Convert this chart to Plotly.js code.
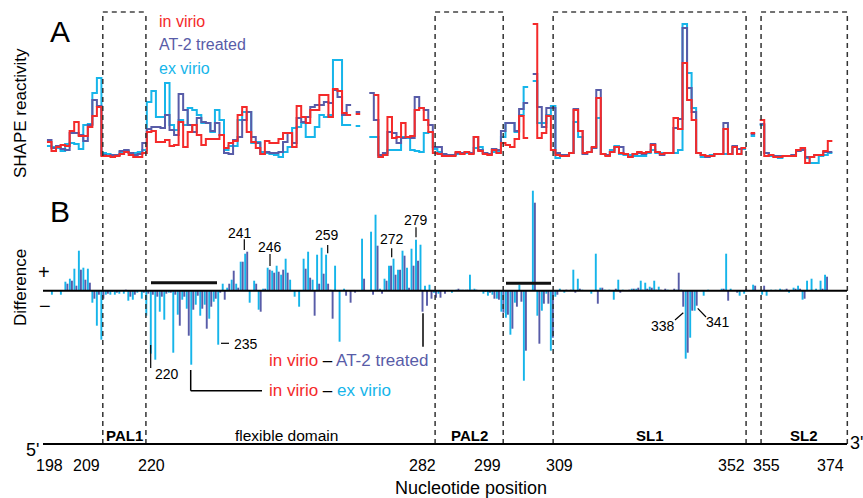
<!DOCTYPE html>
<html><head><meta charset="utf-8">
<script src="https://cdn.plot.ly/plotly-3.0.1.min.js"></script>
<style>html,body{margin:0;padding:0;background:#fff}#chart{width:863px;height:498px}</style>
</head><body><div id="chart"></div>
<script>
// Nucleotide positions 198..370
const firstNt = 198;

// Panel A: SHAPE reactivity (arbitrary units)
const inVirio = [
0.18,0.09,0.13,0.15,0.14,0.29,0.38,0.24,0.24,0.33,
0.44,0.53,0.04,0.04,0.03,0.04,0.06,0.08,0.05,0.03,
0.03,0.07,0.28,0.29,0.18,0.18,0.20,0.14,0.15,0.38,
0.13,0.28,0.35,0.25,0.15,0.21,0.21,0.21,0.25,0.12,
0.17,0.19,0.45,0.53,0.28,0.18,0.12,0.06,0.19,0.17,
0.17,0.21,0.27,0.27,0.13,0.54,0.43,0.37,0.50,0.50,
0.65,0.65,0.43,0.71,0.69,0.47,0.45,null,0.46,null,
null,null,0.65,0.03,0.05,0.43,0.22,0.23,0.37,0.23,
0.24,0.50,0.52,0.40,0.28,0.07,0.06,0.04,0.04,0.04,
0.08,0.06,0.08,0.06,0.23,0.09,0.06,0.05,0.10,0.07,
0.17,0.15,0.13,0.21,0.44,0.22,null,1.36,0.22,0.27,
0.44,0.10,0.05,0.04,0.04,0.07,0.50,0.29,0.07,0.08,
0.13,0.62,0.06,0.04,0.08,0.13,0.07,0.06,0.03,0.06,
0.08,0.07,0.08,0.15,0.08,0.06,0.07,0.07,0.42,0.31,
0.97,0.60,0.40,0.07,0.05,0.04,0.04,0.06,0.06,0.31,
0.06,0.13,0.06,0.12,null,0.27,null,0.40,0.04,0.05,
0.03,0.03,0.04,0.04,0.04,0.10,0.12,-0.03,0.03,0.05,
0.05,0.09,0.19];
const at2Treated = [
0.20,0.12,0.14,0.11,0.10,0.27,0.27,0.25,0.19,0.35,
0.60,0.54,0.05,0.04,0.05,0.05,0.09,0.10,0.07,0.05,
0.06,0.17,0.31,0.33,0.33,0.32,0.45,0.30,0.25,0.66,
0.50,0.35,0.28,0.42,0.38,0.37,0.29,0.37,0.25,0.07,
0.06,0.20,0.23,0.40,0.48,0.23,0.17,0.06,0.08,0.07,
0.07,0.08,0.18,0.27,0.17,0.42,0.38,0.43,0.53,0.55,
0.55,0.58,0.57,0.70,0.63,0.45,0.55,null,0.48,null,
null,0.67,0.40,0.05,0.07,0.28,0.27,0.17,0.22,0.23,
0.22,0.63,0.52,0.50,0.35,0.13,0.13,0.06,0.05,0.05,
0.07,0.07,0.08,0.07,0.23,0.10,0.07,0.06,0.11,0.10,
0.29,0.37,0.37,0.29,0.51,0.57,null,0.86,0.53,0.33,
0.52,0.52,0.07,0.05,0.05,0.07,0.51,0.29,0.06,0.08,
0.12,0.70,0.06,0.05,0.08,0.13,0.13,0.06,0.03,0.06,
0.07,0.06,0.08,0.16,0.08,0.05,0.07,0.07,0.32,0.41,
1.32,0.72,0.48,0.07,0.05,0.03,0.04,0.06,0.06,0.37,
0.06,0.14,0.11,0.12,null,0.26,null,0.36,0.07,0.05,
0.04,0.04,0.04,0.04,0.05,0.09,0.10,0.03,0.03,0.05,
0.05,0.08,0.08];
const exVirio = [
0.14,0.13,0.12,0.09,0.16,0.17,0.16,0.11,0.35,0.36,
0.67,0.82,0.07,0.06,0.05,0.05,0.08,0.09,0.07,0.07,
0.08,0.10,0.58,0.69,0.43,0.43,0.77,0.35,0.30,0.40,
0.35,0.52,0.50,0.45,0.37,0.37,0.28,0.50,0.40,0.10,
0.14,0.14,0.40,0.48,0.48,0.17,0.18,0.08,0.07,0.06,
0.05,0.03,0.08,0.13,0.32,0.33,0.37,0.23,0.23,0.33,
0.45,0.43,0.45,1.00,1.00,0.35,0.35,null,0.34,null,
null,0.23,0.23,0.03,0.05,0.10,0.10,0.10,0.23,0.22,
0.10,0.09,0.08,0.27,0.28,0.11,0.08,0.05,0.05,0.05,
0.06,0.07,0.07,0.07,0.12,0.13,0.07,0.06,0.08,0.08,
0.23,0.37,0.37,0.28,0.45,0.73,null,0.79,0.37,0.37,
0.45,0.54,0.02,0.04,0.05,0.07,0.38,0.23,0.06,0.08,
0.12,0.42,0.06,0.05,0.10,0.14,0.06,0.05,0.05,0.04,
0.04,0.04,0.07,0.10,0.07,0.07,0.07,0.07,0.07,0.10,
1.36,0.87,0.52,0.07,0.03,0.04,0.05,0.06,0.06,0.06,
0.06,0.13,0.06,0.11,null,0.24,null,0.35,0.07,0.04,
0.04,0.02,0.04,0.04,0.05,0.09,0.10,0.02,-0.03,-0.03,
0.04,0.05,0.07];

// Panel B: differences
const diffExVirio = [
-0.04,0,-0.04,0.09,0.12,0.22,0.40,0.23,0.22,-0.12,
-0.35,-0.49,-0.04,-0.04,-0.04,-0.03,-0.03,-0.10,-0.09,-0.02,
-0.08,-0.25,-0.63,-0.69,-0.21,-0.29,-0.02,-0.62,-0.24,-0.09,
-0.18,-0.74,-0.14,-0.25,-0.14,-0.28,-0.11,-0.54,0.07,0.03,
0.11,0.07,0.29,0.37,-0.12,0.10,-0.19,0.02,0.23,0.20,
0.25,0.16,0.32,0.11,-0.06,-0.16,0.32,0.39,0.11,0.36,
0.43,0.36,0.01,0.25,-0.51,0.02,0,0,0,0.52,
0,0.59,0.76,0.02,0.12,0.25,0.32,0.21,0.40,0.23,
0.42,0.51,0.46,0.05,0.06,-0.02,-0.03,0,0,-0.02,
0.01,0.01,0.01,0.16,0.02,0,-0.03,-0.05,-0.04,-0.08,
-0.21,-0.27,-0.44,-0.12,0.06,-0.90,0,1.00,-0.25,-0.20,
-0.03,-0.60,-0.06,0.02,-0.02,0,0.21,0.12,0.01,0,
-0.03,0.37,0.03,0.01,0.01,-0.09,0.11,0.01,0,0.02,
0.02,0.10,0.08,0.04,0.10,0.04,0,0.01,0,0.01,
0.01,-0.68,-0.47,-0.20,0,-0.05,0.01,0,0,0.02,
0.37,0.02,0,-0.05,-0.03,0,0.06,0,-0.04,-0.05,
0.01,0.01,0.02,0.01,-0.02,0.03,0.05,-0.09,0.10,0.12,
0.02,0.10,0.16];
const diffAT2 = [
0,0,0,0.07,0.10,0.05,0.21,0.11,0.08,-0.08,
-0.04,-0.08,-0.03,-0.01,-0.02,0,0.01,-0.06,-0.04,0,
-0.02,-0.03,-0.04,-0.06,-0.06,-0.03,-0.02,-0.04,-0.35,-0.06,
-0.45,-0.19,-0.05,-0.18,-0.38,-0.16,-0.08,-0.02,-0.09,0.07,
0.20,0.03,0.29,0.39,0,0.07,-0.21,0.02,0.21,0.18,
0.19,0.21,0.18,0,0,0,0.22,0.13,-0.25,0.07,
0.17,0.07,-0.28,0,0,-0.05,-0.12,-0.02,0,0.12,
0,-0.04,0.45,-0.03,0.10,0.25,0.16,0.21,0.35,0.03,
0.25,0.30,-0.21,-0.15,-0.08,-0.07,-0.07,-0.03,0,0,
0.02,0.01,0.01,0.01,0.01,0,-0.01,-0.02,-0.08,-0.09,
-0.22,-0.24,-0.38,-0.16,-0.11,-0.60,0,0.88,-0.53,-0.13,
-0.13,-0.47,-0.04,0,0.01,0.01,-0.02,0.02,0,0,
0,-0.13,0.03,0,0,0.02,-0.02,0,0.01,0.02,
0.03,0.01,0.02,0.03,0.01,0.01,0.02,0,0.02,0.18,
-0.16,-0.62,-0.20,-0.15,0,0,0,0,0,0.02,
-0.10,0,-0.02,0,0.02,0,0.05,0,0.05,0,
0,0,0.01,0.02,0,0.02,0.02,-0.08,0,0,
0,0.02,0.14];

// Structural regions (nucleotide coordinates)
const regionNames = ['PAL1','PAL2','SL1','SL2'];
const regionStart = [209.8, 283.0, 309.0, 354.8];
const regionEnd   = [219.3, 298.0, 351.5, 373.8];
const tickLabels = ['198','209','220','282','299','309','352','355','374'];
const tickPos    = [198.0, 206.2, 220.6, 280.2, 294.5, 310.3, 348.2, 355.9, 370.0];

const RED='#f42a2a', BLUE='#585ca8', CYAN='#16b5ea';
const FONT='"Liberation Sans", Arial, Helvetica, sans-serif';
const XR=[197.07,373.73];

const nts = inVirio.map((_,i)=>firstNt+i);
function steps(vals){
  const xs=[], ys=[];
  vals.forEach((v,i)=>{const n=nts[i]; if(v===null){xs.push(null);ys.push(null);} else {xs.push(n-0.5,n+0.5);ys.push(v,v);}});
  return {xs,ys};
}
const sC=steps(exVirio), sB=steps(at2Treated), sR=steps(inVirio);
const traces=[
 {x:sC.xs,y:sC.ys,type:'scatter',mode:'lines',line:{color:CYAN,width:2},xaxis:'x',yaxis:'y'},
 {x:sB.xs,y:sB.ys,type:'scatter',mode:'lines',line:{color:BLUE,width:2},xaxis:'x',yaxis:'y'},
 {x:sR.xs,y:sR.ys,type:'scatter',mode:'lines',line:{color:RED,width:2},xaxis:'x',yaxis:'y'},
 {x:nts,y:diffExVirio,type:'bar',marker:{color:CYAN,line:{width:0}},xaxis:'x2',yaxis:'y2'},
 {x:nts,y:diffAT2,type:'bar',marker:{color:BLUE,line:{width:0}},xaxis:'x2',yaxis:'y2'}
];

// pixel helpers (plot area 45..847 x 12..444)
const L=45,Rr=847,T=12,Bm=444;
const X=px=>(px-L)/(Rr-L), Y=py=>(Bm-py)/(Bm-T);
const N=n=>(n-XR[0])/(XR[1]-XR[0]);
const shapes=[], annotations=[];
function line(x0,y0,x1,y1,w,col,dash){shapes.push({type:'line',xref:'paper',yref:'paper',x0:X(x0),y0:Y(y0),x1:X(x1),y1:Y(y1),line:{color:col||'#000',width:w||1.2,dash:dash||'solid'}});}
function textP(t,xp,py,size,opts){annotations.push(Object.assign({text:t,xref:'paper',yref:'paper',x:xp,y:Y(py),showarrow:false,font:{family:FONT,size:size,color:'#000'},xanchor:'center',yanchor:'middle'},opts||{}));}
function text(t,px,py,size,opts){textP(t,X(px),py,size,opts);}

// dashed region boxes
regionStart.forEach((s,i)=>{
  const e=regionEnd[i];
  [s,e].forEach(v=>shapes.push({type:'line',xref:'paper',yref:'paper',x0:N(v),x1:N(v),y0:0,y1:1,line:{color:'#333',width:1.5,dash:'5px,4px'}}));
  shapes.push({type:'line',xref:'paper',yref:'paper',x0:N(s),x1:N(e),y0:1,y1:1,line:{color:'#444',width:1.5,dash:'5px,4px'}});
  textP('<b>'+regionNames[i]+'</b>',N((s+e)/2),435,15);
});
text('flexible domain',286,435,15.5);

// axis lines
line(43,444,847,444,2,'#000');
line(43,290.7,847,290.7,2,'#000');
// black bars
line(151,282.7,217,282.7,3,'#111');
line(506,283.3,551,283.3,3,'#111');
// leader lines
line(150.7,345,150.7,368);
line(221,343.3,229,343.3);
line(244.3,239.3,244.3,250);
line(270,254,270,266);
line(327.7,245,327.7,253.3);
line(391.7,248.3,391.7,257.3);
line(416,227.3,416,237.3);
line(675,320,683.3,312.7);
line(697.7,308.3,706,317);
line(423,313.3,423,346.7,1.5);
line(190.7,370,190.7,390.7,1.5);
line(190.7,390.7,262,390.7,1.5);

// tick labels
tickLabels.forEach((t,i)=>textP(t,N(tickPos[i]),466,16));
text('Nucleotide position',471,488,18);
text("5'",32.5,450,18);
text("3'",856,443,18);

// panel letters and axis titles
text('A',60,31,30);
text('B',60,211,30);
text('SHAPE reactivity',20,113,17,{textangle:-90});
text('Difference',20,288,17,{textangle:-90});
text('+',44,272,20);
text('\u2212',45,306,20);

// legends
text('in virio',157,22,16,{xanchor:'left',font:{family:FONT,size:16,color:RED}});
text('AT-2 treated',157,45,16,{xanchor:'left',font:{family:FONT,size:16,color:BLUE}});
text('ex virio',157,68,16,{xanchor:'left',font:{family:FONT,size:16,color:CYAN}});
text('<span style="color:'+RED+'">in virio</span> \u2013 <span style="color:'+BLUE+'">AT-2 treated</span>',267,360,17,{xanchor:'left'});
text('<span style="color:'+RED+'">in virio</span> \u2013 <span style="color:'+CYAN+'">ex virio</span>',267,390,17,{xanchor:'left'});

// marked nucleotides
text('220',153,374,14,{xanchor:'left'});
text('235',232,344,14,{xanchor:'left'});
text('241',240,233,14);
text('246',269.5,247.5,14);
text('259',327,234.5,14);
text('272',391.5,239,14);
text('279',415.5,219.5,14);
text('338',663,326,14);
text('341',717.5,321.5,14);

const layout={
  width:863,height:498,margin:{l:L,r:863-Rr,t:T,b:498-Bm,pad:0},
  paper_bgcolor:'#fff',plot_bgcolor:'#fff',showlegend:false,
  font:{family:FONT},
  barmode:'group',bargap:0.1,bargroupgap:0.05,
  xaxis:{domain:[0,1],range:XR,visible:false,anchor:'y'},
  yaxis:{domain:[Y(175),1],range:[-0.15,1.48],visible:false,anchor:'x'},
  xaxis2:{domain:[0,1],range:[196.24,374.66],visible:false,anchor:'y2'},
  yaxis2:{domain:[Y(400),Y(185)],range:[-1.093,1.057],visible:false,anchor:'x2'},
  shapes:shapes,annotations:annotations
};
Plotly.newPlot('chart',traces,layout,{staticPlot:true,displayModeBar:false});
</script>
</body></html>
